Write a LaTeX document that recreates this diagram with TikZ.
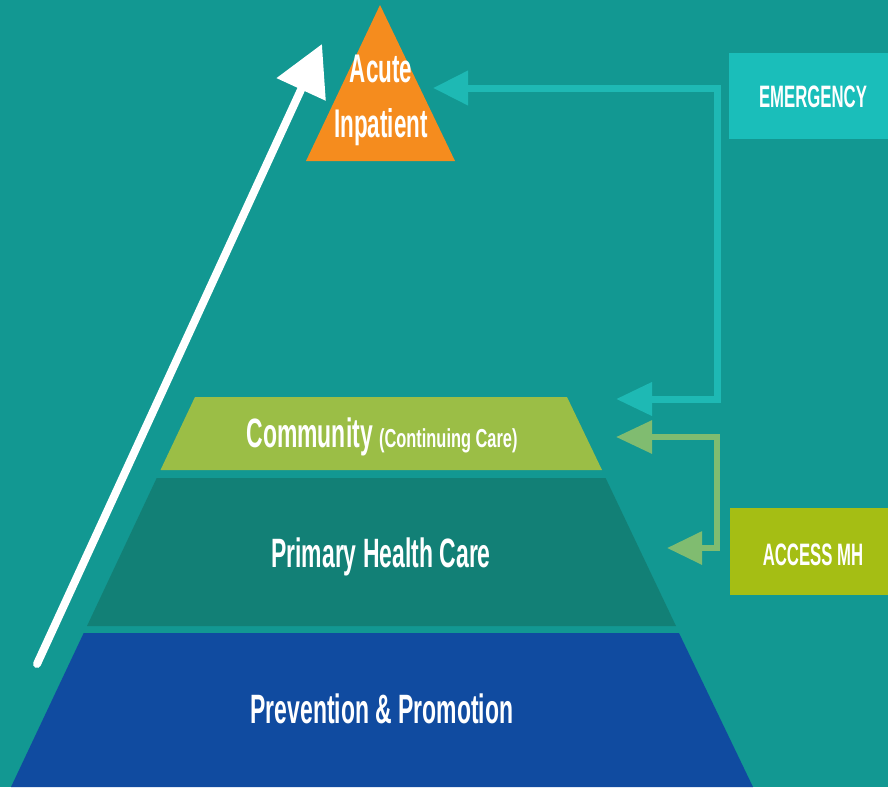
\documentclass[tikz,border=0pt]{standalone}
\usepackage{fontspec}
\setmainfont{Liberation Sans}
\newfontfamily\condfont[FakeStretch=0.56]{Liberation Sans}
\newfontfamily\smallcond[FakeStretch=0.63]{Liberation Sans}
\newfontfamily\capsfont[FakeStretch=0.54]{Liberation Sans}
\usetikzlibrary{arrows.meta}
\definecolor{bgteal}{RGB}{18,152,146}
\definecolor{orangetri}{RGB}{245,140,30}
\definecolor{commgreen}{RGB}{155,190,70}
\definecolor{primteal}{RGB}{18,128,118}
\definecolor{prevblue}{RGB}{16,75,160}
\definecolor{emcyan}{RGB}{26,190,186}
\definecolor{emline}{RGB}{30,185,180}
\definecolor{accgreen}{RGB}{165,190,20}
\definecolor{accline}{RGB}{128,188,112}
\tikzset{
  layertext/.style={text=white, inner sep=0pt, anchor=base, font=\condfont\bfseries\fontsize{41}{45}\selectfont},
  boxtext/.style={text=white, inner sep=0pt, anchor=base, font=\capsfont\bfseries\fontsize{31}{34}\selectfont},
  emconn/.style={draw=emline, line width=7pt, line join=miter},
  accconn/.style={draw=accline, line width=6pt, line join=miter},
}
\begin{document}
\begin{tikzpicture}[x=1pt,y=-1pt]
\fill[bgteal] (0,0) rectangle (888,787);
\useasboundingbox (0,0) rectangle (888,787);
% pyramid
\fill[orangetri] (380,5) -- (455,161) -- (306,161) -- cycle;
\fill[commgreen] (195,397) -- (567,397) -- (602,470) -- (160.5,470) -- cycle;
\fill[primteal] (156.7,478) -- (605.6,478) -- (676,626) -- (87,626) -- cycle;
\fill[prevblue] (83.7,633) -- (679,633) -- (753,787) -- (11,787) -- cycle;
% side boxes
\fill[emcyan] (729,53) rectangle (900,139);
\fill[accgreen] (730,508) rectangle (900,595);
% texts
\node[text=white, inner sep=0pt, align=center, font=\condfont\bfseries\fontsize{40}{55}\selectfont] (acute) at (381,100.5) {Acute\\Inpatient};
\node[layertext] (comm) at (382,447) {Community {\smallcond\fontsize{26}{28}\selectfont (Continuing Care)}};
\node[layertext] (prim) at (381,567) {Primary Health Care};
\node[layertext] (prev) at (382,723) {Prevention \& Promotion};
\node[boxtext] (emerg) at (813,107) {EMERGENCY};
\node[boxtext] (access) at (813,565) {ACCESS MH};
% connector coordinates
\coordinate (acuteIn) at (433,88);
\coordinate (emTop) at (717,88);
\coordinate (emBot) at (717,399);
\coordinate (commInA) at (616,399);
\coordinate (commInB) at (616,437);
\coordinate (accTop) at (717,437);
\coordinate (accBot) at (717,548);
\coordinate (primIn) at (667,548);
\coordinate (upStart) at (37,664);
\coordinate (upTip) at (322,44);
% connectors
\draw[emconn, {Triangle[length=35pt,width=33pt]}-{Triangle[length=36pt,width=32pt]}] (acuteIn) -- (emTop) -- (emBot) -- (commInA);
\draw[accconn, {Triangle[length=36pt,width=32pt]}-{Triangle[length=35pt,width=32pt]}] (commInB) -- (accTop) -- (accBot) -- (primIn);
\draw[white, line width=8pt, line cap=round, -{Triangle[length=50pt,width=52pt]}] (upStart) -- (upTip);
\end{tikzpicture}
\end{document}
